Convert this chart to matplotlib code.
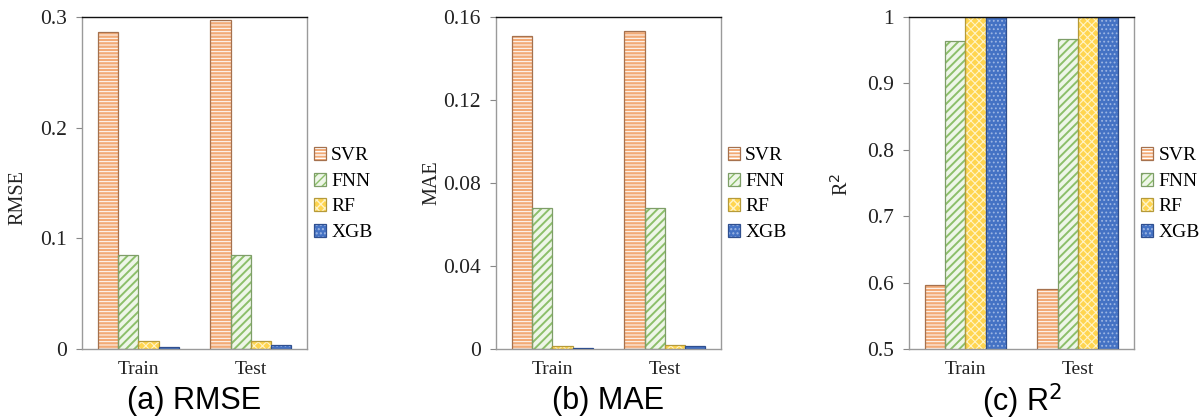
import matplotlib
matplotlib.use("Agg")
import matplotlib.pyplot as plt
import numpy as np

groups = ["Train", "Test"]
models = ["SVR", "FNN", "RF", "XGB"]

rmse = {"SVR": [0.286, 0.297], "FNN": [0.085, 0.085], "RF": [0.007, 0.007], "XGB": [0.0015, 0.0033]}
mae = {"SVR": [0.151, 0.1534], "FNN": [0.068, 0.068], "RF": [0.0016, 0.0017], "XGB": [0.0006, 0.0013]}
r2 = {"SVR": [0.596, 0.591], "FNN": [0.964, 0.967], "RF": [1.0, 1.0], "XGB": [1.0, 1.0]}

rmse_ticks = [0, 0.1, 0.2, 0.3]
rmse_ticklabels = ["0", "0.1", "0.2", "0.3"]
mae_ticks = [0, 0.04, 0.08, 0.12, 0.16]
mae_ticklabels = ["0", "0.04", "0.08", "0.12", "0.16"]
r2_ticks = [0.5, 0.6, 0.7, 0.8, 0.9, 1.0]
r2_ticklabels = ["0.5", "0.6", "0.7", "0.8", "0.9", "1"]

styles = {
    "SVR": dict(face="#F2AA76", hatch="-----", hcolor="#FFFFFF", edge="#A5714E", hlw=0.7),
    "FNN": dict(face="#EEF6E8", hatch="////", hcolor="#8CBF6A", edge="#7E9E68", hlw=1.4),
    "RF": dict(face="#FFD54F", hatch="xxxx", hcolor="#FFF4C8", edge="#B59A3A", hlw=0.8),
    "XGB": dict(face="#4472C4", hatch="....", hcolor="#9DB6E3", edge="#2F4F8F", hlw=0.8),
}

serif = ["Liberation Serif", "DejaVu Serif"]
sans = ["Liberation Sans", "DejaVu Sans"]

fig = plt.figure(figsize=(12.03, 4.2), dpi=100)

panels = [
    (rmse, (0, 0.3), rmse_ticks, rmse_ticklabels, "RMSE", (-0.284, 0.455), "(a) RMSE", 82),
    (mae, (0, 0.16), mae_ticks, mae_ticklabels, "MAE", (-0.284, 0.5), "(b) MAE", 496),
    (r2, (0.5, 1.0), r2_ticks, r2_ticklabels, "R$^2$", (-0.30, 0.497), "(c) R$^{2}$", 909),
]

W, H = 1203, 420
x = np.arange(len(groups))
bw = 0.18
for data, ylim, ticks, tlabels, ylabel, ylpos, title, left_px in panels:
    ax = fig.add_axes([left_px / W, (H - 349) / H, 225 / W, 332 / H])
    handles = []
    for i, m in enumerate(models):
        st = styles[m]
        off = (i - 1.5) * bw
        with plt.rc_context({"hatch.linewidth": st["hlw"]}):
            b1 = ax.bar(x + off, data[m], bw, color=st["face"], hatch=st["hatch"],
                        edgecolor=st["hcolor"], linewidth=0, zorder=2)
        b2 = ax.bar(x + off, data[m], bw, fill=False, edgecolor=st["edge"],
                    linewidth=0.9, zorder=3)
        handles.append((b1, b2))
    ax.set_xlim(-0.5, 1.5)
    ax.set_ylim(*ylim)
    ax.set_yticks(ticks)
    ax.set_yticklabels(tlabels, fontfamily=serif, fontsize=15.5, color="#222222")
    ax.set_xticks(x)
    ax.set_xticklabels(groups, fontfamily=serif, fontsize=14, color="#222222")
    ax.tick_params(axis="x", length=0, pad=9)
    ax.tick_params(axis="y", length=4, width=0.8, color="#888888", pad=7)
    for s in ["left", "right", "bottom"]:
        ax.spines[s].set_color("#9A9A9A")
        ax.spines[s].set_linewidth(1.0)
    ax.spines["top"].set_color("#111111")
    ax.spines["top"].set_linewidth(1.0)
    ax.spines["top"].set_zorder(5)
    ax.text(ylpos[0], ylpos[1], ylabel, transform=ax.transAxes, rotation=90,
            ha="center", va="center", fontfamily=serif, fontsize=14.5, color="#222222")
    ax.legend(handles, models, loc="center left", bbox_to_anchor=(1.03, 0.467),
              frameon=False, borderpad=0, borderaxespad=0, handlelength=0.65,
              handleheight=0.65, handletextpad=0.25, labelspacing=0.42,
              prop={"family": serif, "size": 14})
    cx = (left_px + 112.5) / W
    fig.text(cx, (H - 401) / H, title, ha="center", va="center",
             fontfamily=sans, fontsize=22, color="#000000")

fig.savefig("out.png", dpi=100)
